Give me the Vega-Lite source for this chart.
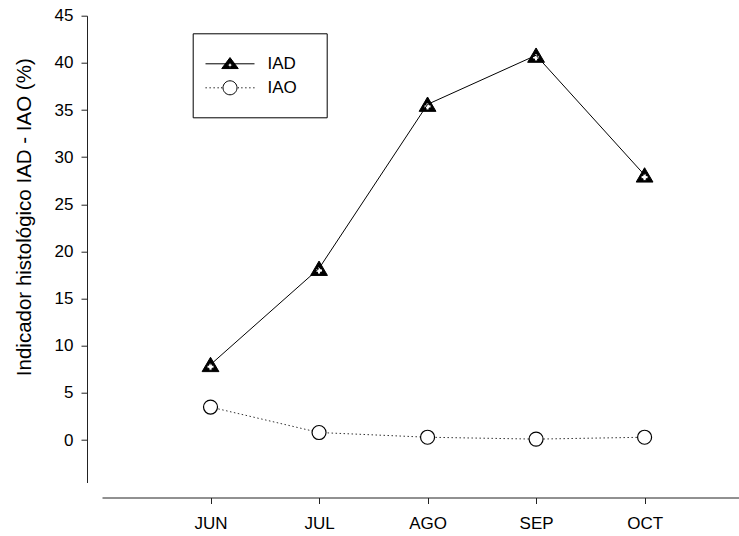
{
  "$schema": "https://vega.github.io/schema/vega-lite/v6.json",
  "width": 637,
  "height": 466.8,
  "autosize": {"type": "none"},
  "padding": {"left": 102, "top": 15.7, "right": 0, "bottom": 53.5},
  "background": "white",
  "config": {
    "font": "Liberation Sans",
    "view": {"stroke": null},
    "axis": {
      "domainColor": "#222222",
      "tickColor": "#222222",
      "labelColor": "black",
      "titleColor": "black",
      "tickSize": 6,
      "labelFontSize": 17,
      "grid": false,
      "labelFlush": false,
      "labelOverlap": false
    },
    "legend": {
      "orient": "none",
      "legendX": 90.7,
      "legendY": 17.6,
      "symbolSize": 625,
      "symbolStrokeWidth": 1,
      "symbolOffset": 6.8,
      "labelOffset": 24.5,
      "padding": 17.5,
      "rowPadding": -1,
      "labelFontSize": 17,
      "labelColor": "black",
      "strokeColor": "black",
      "fillColor": "white"
    }
  },
  "data": {
    "values": [
      {"mes": "JUN", "m": 6, "serie": "IAD", "valor": 8.0},
      {"mes": "JUL", "m": 7, "serie": "IAD", "valor": 18.2},
      {"mes": "AGO", "m": 8, "serie": "IAD", "valor": 35.6},
      {"mes": "SEP", "m": 9, "serie": "IAD", "valor": 40.8},
      {"mes": "OCT", "m": 10, "serie": "IAD", "valor": 28.1},
      {"mes": "JUN", "m": 6, "serie": "IAO", "valor": 3.5},
      {"mes": "JUL", "m": 7, "serie": "IAO", "valor": 0.8},
      {"mes": "AGO", "m": 8, "serie": "IAO", "valor": 0.3},
      {"mes": "SEP", "m": 9, "serie": "IAO", "valor": 0.1},
      {"mes": "OCT", "m": 10, "serie": "IAO", "valor": 0.3}
    ]
  },
  "encoding": {
    "x": {
      "field": "m",
      "type": "quantitative",
      "scale": {"domain": [5, 10.87], "nice": false, "zero": false},
      "axis": {
        "values": [6, 7, 8, 9, 10],
        "labelExpr": "['JUN','JUL','AGO','SEP','OCT'][datum.value - 6]",
        "title": null,
        "offset": 15,
        "labelPadding": 12
      }
    },
    "y": {
      "field": "valor",
      "type": "quantitative",
      "scale": {"domain": [-4.5, 45], "nice": false, "zero": false},
      "axis": {
        "values": [0, 5, 10, 15, 20, 25, 30, 35, 40, 45],
        "title": "Indicador histológico IAD - IAO (%)",
        "offset": 15,
        "labelPadding": 8,
        "titleFontSize": 20.5,
        "titleFontWeight": "normal",
        "titleAngle": -90,
        "titleBaseline": "middle",
        "titleAlign": "center",
        "titleX": -63,
        "titleY": 201
      }
    }
  },
  "layer": [
    {
      "transform": [{"filter": "datum.serie === 'IAD'"}],
      "mark": {"type": "line", "stroke": "black", "strokeWidth": 1}
    },
    {
      "transform": [{"filter": "datum.serie === 'IAO'"}],
      "mark": {"type": "line", "stroke": "#333333", "strokeWidth": 1, "strokeDash": [1.5, 2.5]}
    },
    {
      "transform": [{"filter": "datum.serie === 'IAD'"}],
      "mark": {
        "type": "point",
        "size": 196,
        "shape": "M0,-1.05L1.2,1L-1.2,1ZM-0.22,-0.2L-0.22,0.08L-0.5,0.08L-0.5,0.52L-0.22,0.52L-0.22,0.8L0.22,0.8L0.22,0.52L0.5,0.52L0.5,0.08L0.22,0.08L0.22,-0.2Z",
        "filled": true,
        "fill": "black",
        "stroke": "black",
        "strokeWidth": 1,
        "opacity": 1
      }
    },
    {
      "transform": [{"filter": "datum.serie === 'IAO'"}],
      "mark": {
        "type": "point",
        "size": 196,
        "shape": "circle",
        "filled": true,
        "fill": "white",
        "stroke": "black",
        "strokeWidth": 1.2,
        "opacity": 1
      }
    },
    {
      "transform": [{"filter": "false"}],
      "mark": {"type": "point", "stroke": "black", "strokeWidth": 1, "opacity": 1, "filled": false},
      "encoding": {
        "fill": {
          "field": "serie",
          "type": "nominal",
          "scale": {"domain": ["IAD", "IAO"], "range": ["black", "white"]},
          "legend": {"title": null}
        },
        "shape": {
          "field": "serie",
          "type": "nominal",
          "scale": {
            "domain": ["IAD", "IAO"],
            "range": [
              "M0,-1.2M6.15,0M-1.96,0L-0.38,0M0.38,0L1.96,0M0,-0.5L0.66,0.38L-0.66,0.38ZM-0.07,-0.07L-0.07,0.03L-0.17,0.03L-0.17,0.17L-0.07,0.17L-0.07,0.27L0.07,0.27L0.07,0.17L0.17,0.17L0.17,0.03L0.07,0.03L0.07,-0.07Z",
              "M0,-1.2M6.15,0M0,0.8M-1.96,0L-1.86,0M-1.64,0L-1.54,0M-1.32,0L-1.22,0M-1,0L-0.9,0M-0.72,0L-0.62,0M0.62,0L0.72,0M0.9,0L1,0M1.22,0L1.32,0M1.54,0L1.64,0M1.86,0L1.96,0M0.56,0A0.56,0.56 0 1,1 -0.56,0A0.56,0.56 0 1,1 0.56,0Z"
            ]
          },
          "legend": {"title": null}
        }
      }
    }
  ]
}
